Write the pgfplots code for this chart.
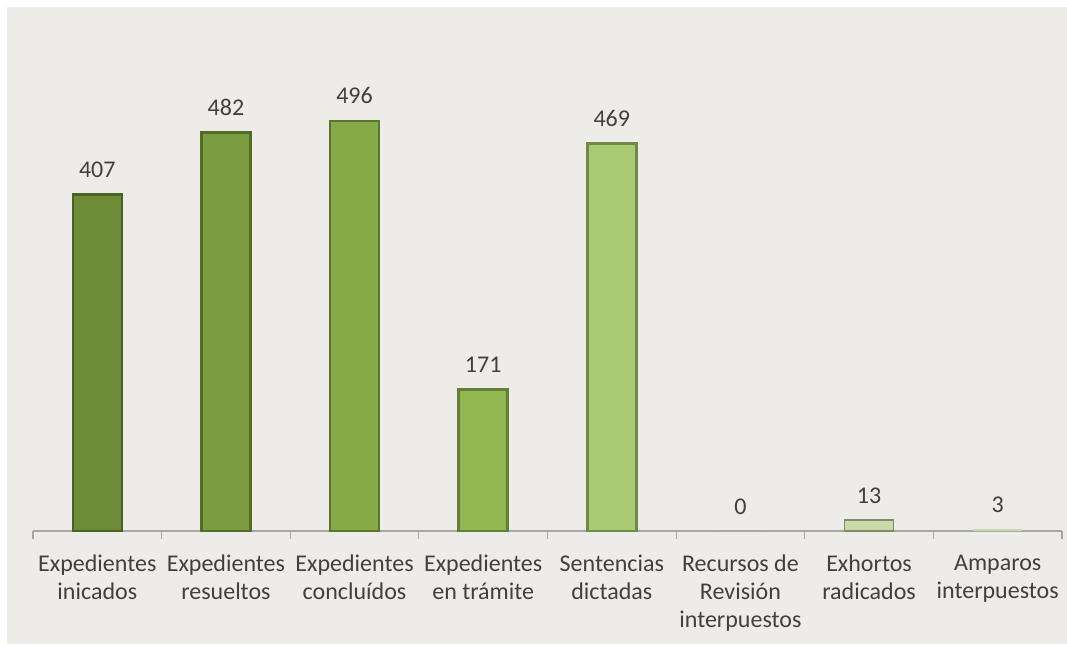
\documentclass[border=0pt]{standalone}
\usepackage{fontspec}
\setmainfont{Carlito}
\usepackage{pgfplots}
\pgfplotsset{compat=1.18}

\definecolor{bgc}{HTML}{EEECE8}
\definecolor{txt}{HTML}{404040}
\definecolor{axc}{HTML}{A6A6A6}
\definecolor{gA}{HTML}{6E8C38}
\definecolor{gAd}{HTML}{4A6222}
\definecolor{gB}{HTML}{7B9C3F}
\definecolor{gBd}{HTML}{536D28}
\definecolor{gC}{HTML}{86AA48}
\definecolor{gCd}{HTML}{5B772E}
\definecolor{gD}{HTML}{92B852}
\definecolor{gDd}{HTML}{637F35}
\definecolor{gE}{HTML}{A9CB74}
\definecolor{gEd}{HTML}{71894A}
\definecolor{gF}{HTML}{C8DAAA}
\definecolor{gFd}{HTML}{7E8C68}

\begin{document}
\begin{tikzpicture}[x=1bp,y=1bp]
% fondo
\fill[white] (0,0) rectangle (533.5,322.5);
\fill[bgc] (3.5,0.5) rectangle (533.5,319);
\useasboundingbox (0,0) rectangle (533.5,322.5);

\begin{axis}[
    at={(16.5bp,57bp)}, anchor=south west,
    scale only axis,
    width=514.5bp, height=248bp,
    xmin=-0.5, xmax=7.5,
    ymin=0, ymax=600,
    axis x line*=bottom,
    axis y line=none,
    axis line style={axc, line width=0.8bp},
    ybar, bar width=24.5bp, bar shift=0pt,
    xtick={0,...,7},
    major tick length=0pt,
    xticklabels={{Expedientes\\inicados},{Expedientes\\resueltos},
        {Expedientes\\concluídos},{Expedientes\\en trámite},
        {Sentencias\\dictadas},{Recursos de\\Revisión\\interpuestos},
        {Exhortos\\radicados},{Amparos\\interpuestos}},
    xticklabel style={font=\fontsize{12bp}{14bp}\selectfont, align=center,
        text=txt, yshift=-8.5bp},
    extra x ticks={-0.5,0.5,1.5,2.5,3.5,4.5,5.5,6.5,7.5},
    extra x tick labels={},
    extra x tick style={major tick length=4bp, tick align=outside,
        tick style={axc, line width=0.6bp}},
    /pgf/number format/assume math mode=true,
    nodes near coords,
    every node near coord/.append style={font=\fontsize{12bp}{14bp}\selectfont,
        text=txt, yshift=4.5bp},
    clip=false,
]
\addplot[draw=gAd, line width=1.2bp, fill=gA] coordinates {(0,407)};
\addplot[draw=gBd, line width=1.2bp, fill=gB] coordinates {(1,482)};
\addplot[draw=gCd, line width=1.2bp, fill=gC] coordinates {(2,496)};
\addplot[draw=gDd, line width=1.2bp, fill=gD] coordinates {(3,171)};
\addplot[draw=gEd, line width=1.2bp, fill=gE] coordinates {(4,469)};
\addplot[draw=none, fill=gF] coordinates {(5,0)};
\addplot[draw=gFd, line width=0.8bp, fill=gF] coordinates {(6,13)};
\addplot[draw=none, fill=gF] coordinates {(7,3)};
\end{axis}
\end{tikzpicture}
\end{document}
